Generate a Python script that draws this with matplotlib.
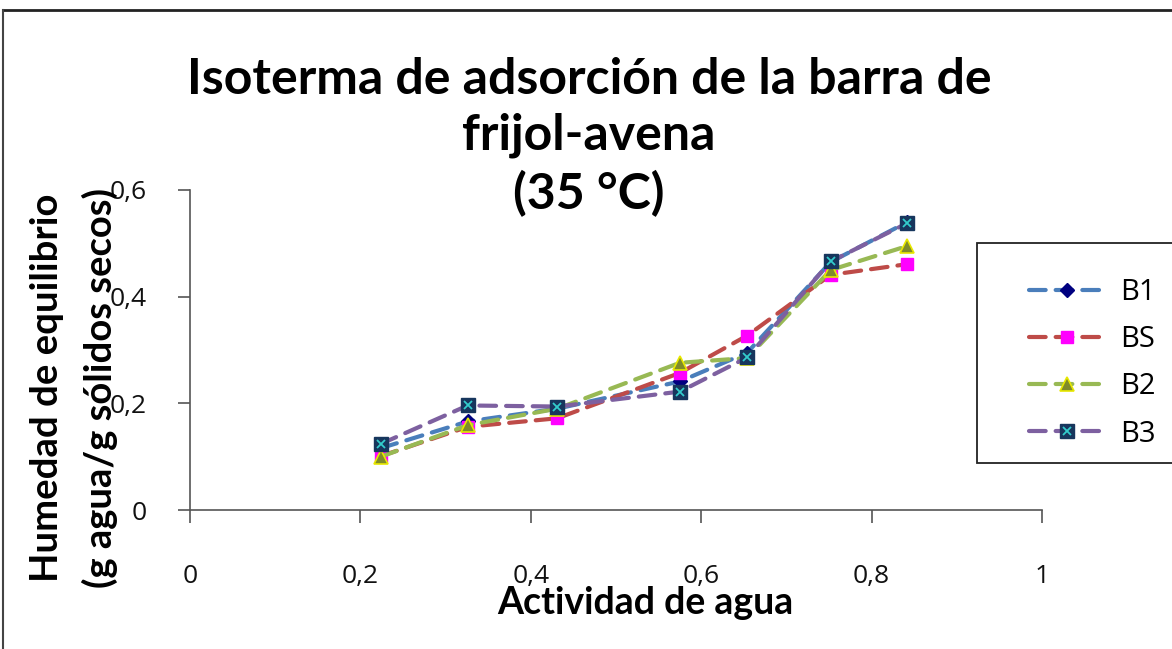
import matplotlib.pyplot as plt
from matplotlib.lines import Line2D
from matplotlib.patches import Rectangle
from matplotlib.legend_handler import HandlerTuple

plt.rcParams['font.family'] = ['Lato', 'DejaVu Sans']

# Actividad de agua y humedad de equilibrio de cada muestra
aw = [0.224, 0.326, 0.431, 0.575, 0.654, 0.752, 0.842]
b1 = [0.116, 0.166, 0.190, 0.241, 0.295, 0.465, 0.540]
bs = [0.101, 0.156, 0.172, 0.257, 0.327, 0.441, 0.461]
b2 = [0.100, 0.159, 0.190, 0.276, 0.285, 0.450, 0.495]
b3 = [0.124, 0.196, 0.194, 0.222, 0.286, 0.466, 0.538]
xticks = [0, 0.2, 0.4, 0.6, 0.8, 1]
yticks = [0, 0.2, 0.4, 0.6]


def coma(t):
    if t == 0:
        return '0'
    if t == 1:
        return '1'
    return f'{t:.1f}'.replace('.', ',')


W, H = 1172, 649
fig = plt.figure(figsize=(W / 100, H / 100), dpi=100)
ax = fig.add_axes([190 / W, 1 - 510 / H, (1042 - 190) / W, (510 - 190) / H])

dash = dict(linestyle=(0, (4, 2.4)), linewidth=3.0, dash_capstyle='round')

h1, = ax.plot(aw, b1, color='#4A7EBB', marker='D', markersize=7,
              markerfacecolor='#000080', markeredgecolor='#000080', **dash)
h2, = ax.plot(aw, bs, color='#BE4B48', marker='s', markersize=9,
              markerfacecolor='#FF00FF', markeredgecolor='#FF00FF', **dash)
h3, = ax.plot(aw, b2, color='#98B954', marker='^', markersize=10,
              markerfacecolor='#7F8B2A', markeredgecolor='#E8E800',
              markeredgewidth=1.2, **dash)
h4, = ax.plot(aw, b3, color='#7D60A0', marker='s', markersize=10,
              markerfacecolor='#17365D', markeredgecolor='#17365D', **dash)
h4x, = ax.plot(aw, b3, linestyle='none', marker='x', markersize=6,
               markeredgecolor='#33CCCC', markeredgewidth=1.3)

ax.set_xlim(0, 1)
ax.set_ylim(0, 0.6)
ax.set_xticks(xticks)
ax.set_yticks(yticks)
ax.set_xticklabels([coma(t) for t in xticks], family=['Open Sans', 'DejaVu Sans'])
ax.set_yticklabels([coma(t) for t in yticks], family=['Open Sans', 'DejaVu Sans'])
ax.tick_params(axis='both', direction='out', length=9, width=1.2, color='#555555',
               labelsize=19, labelcolor='#111111')
ax.tick_params(axis='x', pad=30)
ax.tick_params(axis='y', pad=22)
for side in ['top', 'right']:
    ax.spines[side].set_visible(False)
for side in ['left', 'bottom']:
    ax.spines[side].set_color('#555555')
    ax.spines[side].set_linewidth(1.2)
for ln in ax.lines:
    ln.set_clip_on(False)

# Titulo y etiquetas de los ejes
fig.text(589 / W, 1 - 137 / H, 'Isoterma de adsorción de la barra de\nfrijol-avena\n(35 °C)',
         ha='center', va='center', fontsize=36, fontweight='bold', linespacing=1.3)
fig.text(645 / W, 1 - 603 / H, 'Actividad de agua', ha='center', va='center',
         fontsize=27, fontweight='bold')
fig.text(74 / W, 1 - 388 / H, 'Humedad de equilibrio\n(g agua/g sólidos secos)',
         ha='center', va='center', rotation=90, fontsize=27.5, fontweight='bold',
         linespacing=1.6)

# Leyenda con marco propio
fig.add_artist(Rectangle((977 / W, 1 - 463 / H), 210 / W, 220 / H, transform=fig.transFigure,
                         facecolor='white', edgecolor='#222222', linewidth=1.3))
fig.legend([h1, h2, h3, (h4, h4x)], ['B1', 'BS', 'B2', 'B3'],
           loc='upper left', bbox_to_anchor=(1003 / W, 1 - 252 / H),
           frameon=False, prop={'family': ['Open Sans', 'DejaVu Sans'], 'size': 21},
           handlelength=2.6, handletextpad=0.5, labelspacing=0.62,
           handler_map={tuple: HandlerTuple(ndivide=1, pad=0)})

# Marco exterior del grafico
fig.add_artist(Line2D([3 / W, 1], [1 - 10 / H, 1 - 10 / H], transform=fig.transFigure,
                      color='#222222', linewidth=2))
fig.add_artist(Line2D([3 / W, 3 / W], [0, 1 - 10 / H], transform=fig.transFigure,
                      color='#444444', linewidth=1.5))

fig.savefig('out.png', dpi=100, facecolor='white')
